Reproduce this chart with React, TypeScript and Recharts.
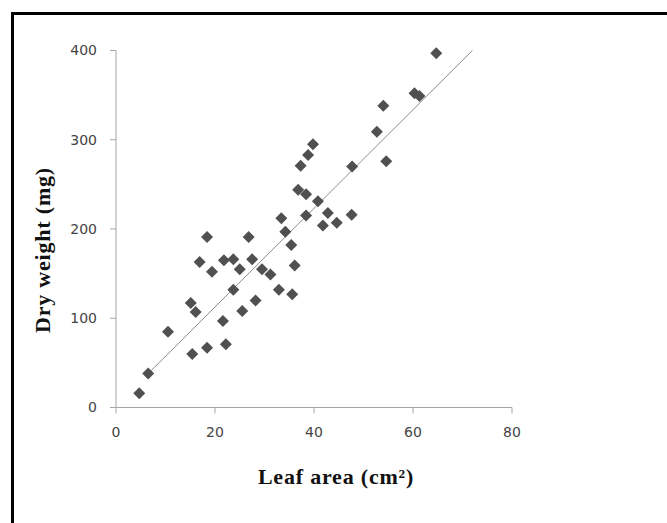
import {
  ScatterChart,
  Scatter,
  XAxis,
  YAxis,
  ReferenceLine,
} from 'recharts';

// leaf area (cm²) and dry weight (mg) per leaf
const LEAF_AREA = [
  4.7, 6.5, 10.5, 15.4, 18.4, 22.2, 21.6, 25.5, 28.2, 15.1, 16.1, 23.7,
  32.9, 35.6, 36.1, 35.4, 34.2, 18.4, 26.8, 16.9, 19.4, 21.8, 23.7, 25.0,
  27.5, 29.5, 31.2, 33.4, 36.8, 38.4, 40.8, 38.4, 42.8, 41.8, 44.6, 47.6,
  37.3, 38.8, 39.8, 47.7, 54.6, 52.7, 54.0, 60.3, 61.3, 64.7,
];
const DRY_WEIGHT = [
  16, 38, 85, 60, 67, 71, 97, 108, 120, 117, 107, 132,
  132, 127, 159, 182, 197, 191, 191, 163, 152, 165, 166, 155,
  166, 155, 149, 212, 244, 239, 231, 215, 218, 204, 207, 216,
  271, 283, 295, 270, 276, 309, 338, 352, 349, 397,
];

// linear trend line end points
const TREND_X = [6.5, 72];
const TREND_Y = [38, 400];

const X_TICKS = [0, 20, 40, 60, 80];
const Y_TICKS = [0, 100, 200, 300, 400];

const data = LEAF_AREA.map((x, i) => ({ x, y: DRY_WEIGHT[i] }));

const AXIS = '#a6a6a6';
const tickStyle = { fill: '#444', fontSize: 14, fontFamily: 'DejaVu Sans' };
const titleStyle = {
  fontFamily: '"Liberation Serif", serif',
  fontWeight: 'bold',
  fontSize: 22,
  letterSpacing: 0.8,
  fill: '#111',
};

function Diamond(props: any) {
  const { cx, cy } = props;
  const r = 6;
  return (
    <path
      d={`M${cx},${cy - r}L${cx + r},${cy}L${cx},${cy + r}L${cx - r},${cy}Z`}
      fill="#505050"
    />
  );
}

export default function App() {
  return (
    <div
      style={{
        position: 'absolute',
        left: 0,
        top: 0,
        width: 667,
        height: 523,
        background: '#fff',
        overflow: 'hidden',
      }}
    >
      <div
        style={{
          position: 'absolute',
          left: 11,
          top: 12,
          right: 0,
          bottom: -10,
          borderLeft: '3px solid #000',
          borderTop: '3px solid #000',
        }}
      />
      <ScatterChart
        width={667}
        height={523}
        margin={{ top: 50.5, right: 155, bottom: 75.5, left: 0 }}
        style={{ position: 'absolute', left: 0, top: 0 }}
      >
        <XAxis
          type="number"
          dataKey="x"
          domain={[0, 80]}
          ticks={X_TICKS}
          height={40}
          tick={tickStyle}
          tickSize={6}
          tickMargin={14}
          axisLine={{ stroke: AXIS }}
          tickLine={{ stroke: AXIS }}
          label={{
            value: 'Leaf area (cm²)',
            position: 'bottom',
            offset: 21,
            dx: 22,
            style: titleStyle,
          }}
        />
        <YAxis
          type="number"
          dataKey="y"
          domain={[0, 400]}
          ticks={Y_TICKS}
          width={116}
          tick={tickStyle}
          tickSize={6}
          tickMargin={13}
          axisLine={{ stroke: AXIS }}
          tickLine={{ stroke: AXIS }}
          label={{
            value: 'Dry weight (mg)',
            angle: -90,
            position: 'insideLeft',
            offset: 42,
            dy: 21,
            style: { ...titleStyle, textAnchor: 'middle' },
          }}
        />
        <ReferenceLine
          segment={[
            { x: TREND_X[0], y: TREND_Y[0] },
            { x: TREND_X[1], y: TREND_Y[1] },
          ]}
          stroke="#8c8c8c"
          strokeWidth={1}
        />
        <Scatter data={data} shape={<Diamond />} isAnimationActive={false} />
      </ScatterChart>
    </div>
  );
}
